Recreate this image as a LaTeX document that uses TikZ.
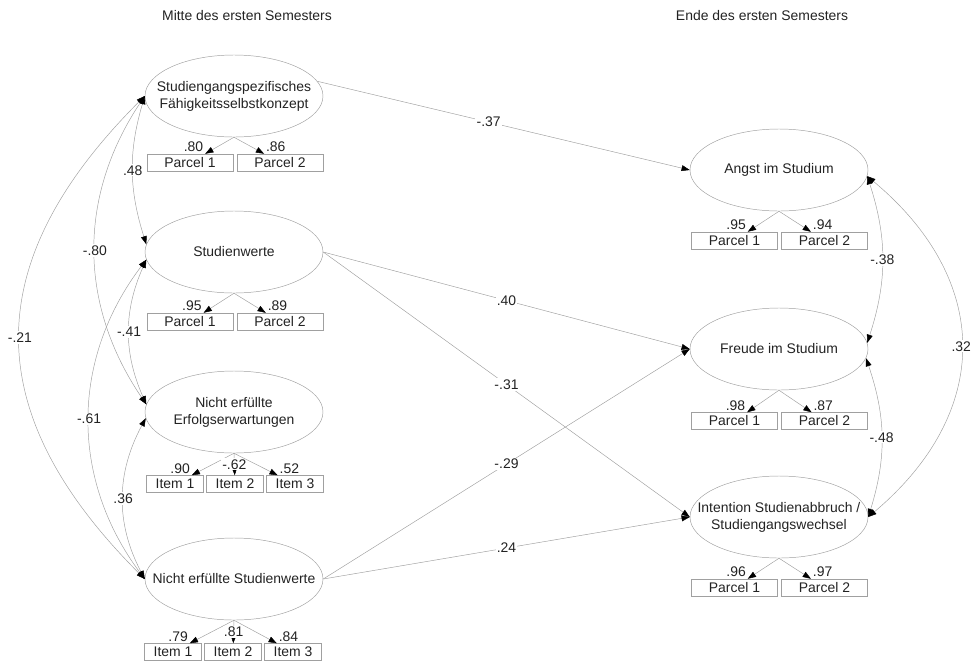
\documentclass[tikz,border=0pt]{standalone}
\usepackage{fontspec}
\setmainfont{Liberation Sans}
\usetikzlibrary{shapes,arrows.meta,positioning}
\definecolor{linegray}{HTML}{A0A0A0}
\definecolor{textgray}{HTML}{222222}

\begin{document}
\begin{tikzpicture}[x=0.03cm,y=-0.03cm,font=\fontsize{11.9}{14.5}\selectfont,text=textgray,
    >={Triangle[length=7pt,width=5pt,color=black,fill=black]},
    latent/.style={draw=linegray,ellipse,minimum width=5.34cm,minimum height=2.46cm,inner sep=0pt},
    txt/.style={align=center,inner sep=0pt},
    box/.style={draw=linegray,minimum height=0.51cm,inner sep=0pt},
    parcel/.style={box,minimum width=2.58cm},
    item/.style={box,minimum width=1.71cm},
    reg/.style={draw=linegray,->},
    cov/.style={draw=linegray,<->},
    coef/.style={fill=white,inner sep=1pt},
    ld/.style={inner sep=1.5pt}]

    \useasboundingbox (0,0) rectangle (979,661);

    \node (mitte) at (247,16) {Mitte des ersten Semesters};
    \node (ende) at (762,16) {Ende des ersten Semesters};

    % Mitte des ersten Semesters
    \node[latent] (sfs) at (234,96) {};
    \node[txt] (sfst) at (sfs) {Studiengangspezifisches\\Fähigkeitsselbstkonzept};
    \node[parcel] (sfs1) at (190,162.5) {Parcel 1};
    \node[parcel] (sfs2) at (280,162.5) {Parcel 2};

    \node[latent] (sw) at (234,252) {};
    \node[txt] (swt) at (sw) {Studienwerte};
    \node[parcel] (sw1) at (190,321.5) {Parcel 1};
    \node[parcel] (sw2) at (280,321.5) {Parcel 2};

    \node[latent] (nee) at (234,412) {};
    \node[txt] (neet) at (nee) {Nicht erfüllte\\Erfolgserwartungen};
    \node[item] (nee1) at (175,484) {Item 1};
    \node[item] (nee2) at (235,484) {Item 2};
    \node[item] (nee3) at (295,484) {Item 3};

    \node[latent] (nsw) at (234,579) {};
    \node[txt] (nswt) at (nsw) {Nicht erfüllte Studienwerte};
    \node[item] (nsw1) at (173,652) {Item 1};
    \node[item] (nsw2) at (233,652) {Item 2};
    \node[item] (nsw3) at (293,652) {Item 3};

    % Ende des ersten Semesters
    \node[latent] (angst) at (779,170) {};
    \node[txt] (angstt) at (angst) {Angst im Studium};
    \node[parcel] (angst1) at (734.5,240.5) {Parcel 1};
    \node[parcel] (angst2) at (824.5,240.5) {Parcel 2};

    \node[latent] (freude) at (779,349) {};
    \node[txt] (freudet) at (freude) {Freude im Studium};
    \node[parcel] (freude1) at (734.5,421) {Parcel 1};
    \node[parcel] (freude2) at (824.5,421) {Parcel 2};

    \node[latent] (abb) at (779,517) {};
    \node[txt] (abbt) at (abb) {Intention Studienabbruch /\\Studiengangswechsel};
    \node[parcel] (abb1) at (734.5,587.5) {Parcel 1};
    \node[parcel] (abb2) at (824.5,587.5) {Parcel 2};

    % loadings
    \draw[reg] (sfs.south) -- node[ld,pos=1,above left] {.80} (sfs1);
    \draw[reg] (sfs.south) -- node[ld,pos=1,above right] {.86} (sfs2);
    \draw[reg] (sw.south) -- node[ld,pos=1,above left] {.95} (sw1);
    \draw[reg] (sw.south) -- node[ld,pos=1,above right] {.89} (sw2);
    \draw[reg] (nee.south) -- node[ld,pos=1,above left] {.90} (nee1);
    \draw[reg] (nee.south) -- node[coef] {-.62} (nee2);
    \draw[reg] (nee.south) -- node[ld,pos=1,above right] {.52} (nee3);
    \draw[reg] (nsw.south) -- node[ld,pos=1,above left] {.79} (nsw1);
    \draw[reg] (nsw.south) -- node[coef] {.81} (nsw2);
    \draw[reg] (nsw.south) -- node[ld,pos=1,above right] {.84} (nsw3);
    \draw[reg] (angst.south) -- node[ld,pos=1,above left] {.95} (angst1);
    \draw[reg] (angst.south) -- node[ld,pos=1,above right] {.94} (angst2);
    \draw[reg] (freude.south) -- node[ld,pos=1,above left] {.98} (freude1);
    \draw[reg] (freude.south) -- node[ld,pos=1,above right] {.87} (freude2);
    \draw[reg] (abb.south) -- node[ld,pos=1,above left] {.96} (abb1);
    \draw[reg] (abb.south) -- node[ld,pos=1,above right] {.97} (abb2);

    % covariances
    \draw[cov] (sfs.west) to[bend right=17] node[coef] {.48} (sw.175);
    \draw[cov] (sfs.west) to[bend right=34] node[coef] {-.80} (nee.175);
    \draw[cov] (sfs.west) to[bend right=45,looseness=1.25] node[coef] {-.21} (nsw.west);
    \draw[cov] (sw.185) to[bend right=24] node[coef] {-.41} (nee.175);
    \draw[cov] (sw.185) to[bend right=37] node[coef] {-.61} (nsw.west);
    \draw[cov] (nee.184) to[bend right=28] node[coef] {.36} (nsw.west);

    \draw[cov] (angst.-4) to[bend left=18] node[coef] {-.38} (freude.4);
    \draw[cov] (angst.-4) to[bend left=50,looseness=1.22] node[coef] {.32} (abb.east);
    \draw[cov] (freude.-6) to[bend left=18] node[coef] {-.48} (abb.east);

    % paths
    \draw[reg] (sfs.10) -- node[coef,pos=0.46] {-.37} (angst.west);
    \draw[reg] (sw.east) -- node[coef] {.40} (freude.west);
    \draw[reg] (sw.east) -- node[coef] {-.31} (abb.west);
    \draw[reg] (nsw.east) -- node[coef] {-.29} (freude.west);
    \draw[reg] (nsw.east) -- node[coef] {.24} (abb.west);

\end{tikzpicture}
\end{document}
